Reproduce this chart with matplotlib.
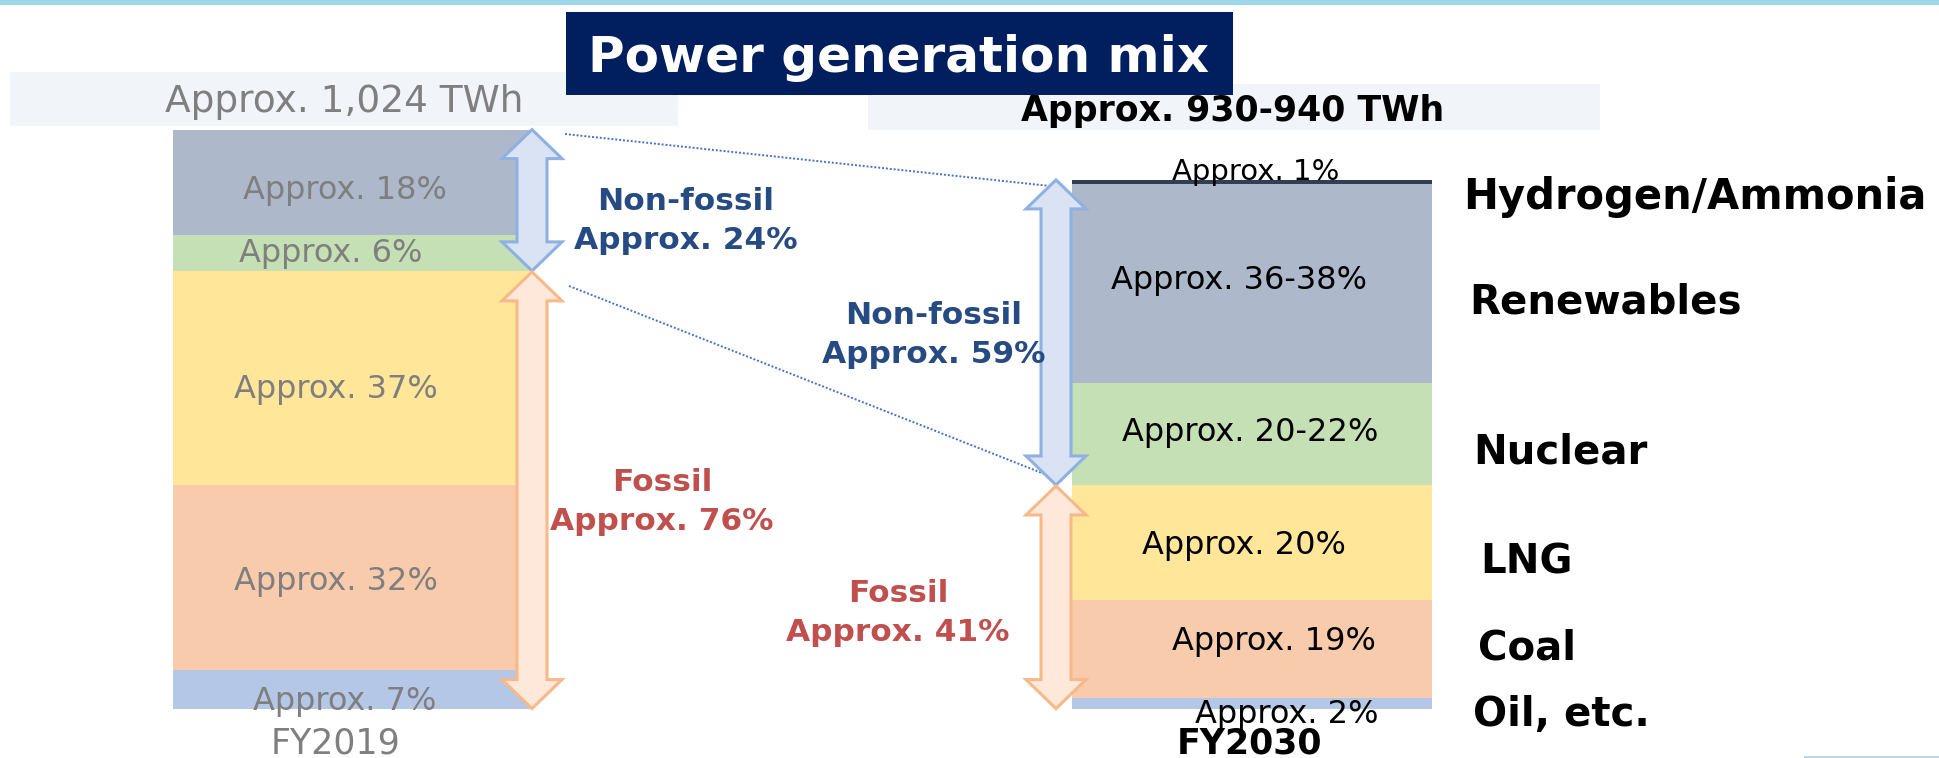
import matplotlib
matplotlib.use("Agg")
import matplotlib.pyplot as plt
from matplotlib.patches import Rectangle, Polygon
import numpy as np

# ---------------- data ----------------
categories = ["Oil, etc.", "Coal", "LNG", "Nuclear", "Renewables", "Hydrogen/Ammonia"]
years = ["FY2019", "FY2030"]
totals_twh = [1024, 935]
total_labels = ["Approx. 1,024 TWh", "Approx. 930-940 TWh"]
share_2019 = [6.6, 32.0, 37.0, 6.2, 18.2, 0.0]      # % (as drawn)
share_2030 = [2.0, 18.6, 21.7, 19.3, 37.6, 0.8]     # % (as drawn)
labels_2019 = ["Approx. 7%", "Approx. 32%", "Approx. 37%", "Approx. 6%", "Approx. 18%", ""]
labels_2030 = ["Approx. 2%", "Approx. 19%", "Approx. 20%", "Approx. 20-22%", "Approx. 36-38%", "Approx. 1%"]
nonfossil_pct = [24, 59]
fossil_pct = [76, 41]
n_fossil = 3  # first three categories are fossil
title = "Power generation mix"

# ---------------- styles / layout ----------------
seg_colors = ["#b4c7e7", "#f8cbad", "#ffe699", "#c5e0b4", "#adb9ca", "#333f50"]
W, H = 1939, 758
BASE = 708.6                 # pixel row of the bar bottoms
K = 579.0 / 1024.0           # pixels per TWh
bar_x = [352.5, 1252.0]
bar_w = 360
arrow_x = [532, 1056]

def Y(p):
    """pixel row -> data value"""
    return (BASE - p) / K

def P(v):
    return BASE - v * K

fig = plt.figure(figsize=(W / 100, H / 100), dpi=100)
ax = fig.add_axes([0, 0, 1, 1])
ax.set_xlim(0, W)
ax.set_ylim(Y(H), Y(0))
ax.axis("off")

# top band and bottom-right line
ax.add_patch(Rectangle((0, Y(5)), W, Y(0) - Y(5), color="#9ed6ea", lw=0, zorder=1))
ax.plot([1805, W], [Y(756.5), Y(756.5)], color="#bcd6e6", lw=1.5, zorder=1)

# total boxes
ax.add_patch(Rectangle((10, Y(126)), 668, Y(72) - Y(126), color="#f1f5fa", lw=0, zorder=1))
ax.add_patch(Rectangle((868, Y(130)), 732, Y(84) - Y(130), color="#f1f5fa", lw=0, zorder=1))
ax.text(344, Y(102), total_labels[0], ha="center", va="center", fontsize=27,
        color="#7f7f7f", zorder=6)
ax.text(1233, Y(111), total_labels[1], ha="center", va="center", fontsize=25,
        fontweight="bold", color="black", zorder=6)

# title box
ax.add_patch(Rectangle((566, Y(95)), 667, Y(12) - Y(95), color="#011e5e", lw=0, zorder=5))
ax.text(899, Y(58), title, ha="center", va="center", fontsize=36, fontweight="bold",
        color="white", zorder=6)

# stacked bars
shares = [share_2019, share_2030]
for i in range(2):
    vals = np.array(shares[i]) * totals_twh[i] / 100.0
    bottoms = np.concatenate([[0], np.cumsum(vals)[:-1]])
    ax.bar([bar_x[i]] * len(vals), vals, bottom=bottoms, width=bar_w,
           color=seg_colors, linewidth=0, zorder=2)

# dotted connector lines
ax.plot([565, 1050], [Y(134), Y(186)], color="#4472c4", lw=1.4, ls=(0, (1, 1)), zorder=3)
ax.plot([569, 1052], [Y(286), Y(477)], color="#4472c4", lw=1.4, ls=(0, (1, 1)), zorder=3)

# double arrows
def double_arrow(c, t, b, hw, sw, hl, fc, ec):
    pts = [(c, t), (c + hw, t + hl), (c + sw, t + hl), (c + sw, b - hl), (c + hw, b - hl),
           (c, b), (c - hw, b - hl), (c - sw, b - hl), (c - sw, t + hl), (c - hw, t + hl)]
    pts = [(x, Y(p)) for x, p in pts]
    ax.add_patch(Polygon(pts, closed=True, facecolor=fc, edgecolor=ec, lw=2.2,
                         joinstyle="miter", zorder=4))

for i in range(2):
    vals = np.array(shares[i]) * totals_twh[i] / 100.0
    top = P(totals_twh[i])
    bnd = P(vals[:n_fossil].sum())
    double_arrow(arrow_x[i], top, bnd, 30, 15, 29, "#dae3f3", "#8fb1e2")
    double_arrow(arrow_x[i], bnd + 1, BASE, 30, 15, 29, "#fde8d9", "#f8b98a")

# segment labels
dx19 = [-8, -17, -17, -22, -8, 0]
dy19 = [12, 4, 12, 1, 8, 0]
dx30 = [35, 22, -8, -2, -13, 4]
dy30 = [11, -7, 3, -1, -3, -10]
lab_sets = [labels_2019, labels_2030]
dxs = [dx19, dx30]
dys = [dy19, dy30]
for i in range(2):
    vals = np.array(shares[i]) * totals_twh[i] / 100.0
    bottoms = np.concatenate([[0], np.cumsum(vals)[:-1]])
    for j, lab in enumerate(lab_sets[i]):
        if not lab:
            continue
        cy = P(bottoms[j] + vals[j] / 2) + dys[i][j]
        fs = 21 if (i == 1 and j == len(lab_sets[i]) - 1) else 23
        ax.text(bar_x[i] + dxs[i][j], Y(cy), lab, ha="center", va="center", fontsize=fs,
                color="#7f7f7f" if i == 0 else "black", zorder=6)

# year labels
ax.text(336, Y(744), years[0], ha="center", va="center", fontsize=25, color="#7f7f7f", zorder=6)
ax.text(1249, Y(743), years[1], ha="center", va="center", fontsize=25, fontweight="bold",
        color="black", zorder=6)

# category labels on the right
cat_pos = {"Hydrogen/Ammonia": (1463, 197), "Renewables": (1469, 302), "Nuclear": (1473, 452),
           "LNG": (1480, 563), "Coal": (1478, 648), "Oil, etc.": (1473, 715)}
for cat in categories:
    x, y = cat_pos[cat]
    ax.text(x, Y(y), cat, ha="left", va="center",
            fontsize=30 if cat == "Hydrogen/Ammonia" else 29, fontweight="bold",
            color="black", zorder=6)

# fossil / non-fossil annotations
blue_txt = "#264a82"
red_txt = "#c0504d"
kw = dict(ha="center", va="center", fontsize=22.5, fontweight="bold", linespacing=1.45, zorder=6)
ax.text(686, Y(221), f"Non-fossil\nApprox. {nonfossil_pct[0]}%", color=blue_txt, **kw)
ax.text(934, Y(335), f"Non-fossil\nApprox. {nonfossil_pct[1]}%", color=blue_txt, **kw)
ax.text(662, Y(502), f"Fossil\nApprox. {fossil_pct[0]}%", color=red_txt, **kw)
ax.text(898, Y(613), f"Fossil\nApprox. {fossil_pct[1]}%", color=red_txt, **kw)

fig.savefig("out.png", dpi=100)
